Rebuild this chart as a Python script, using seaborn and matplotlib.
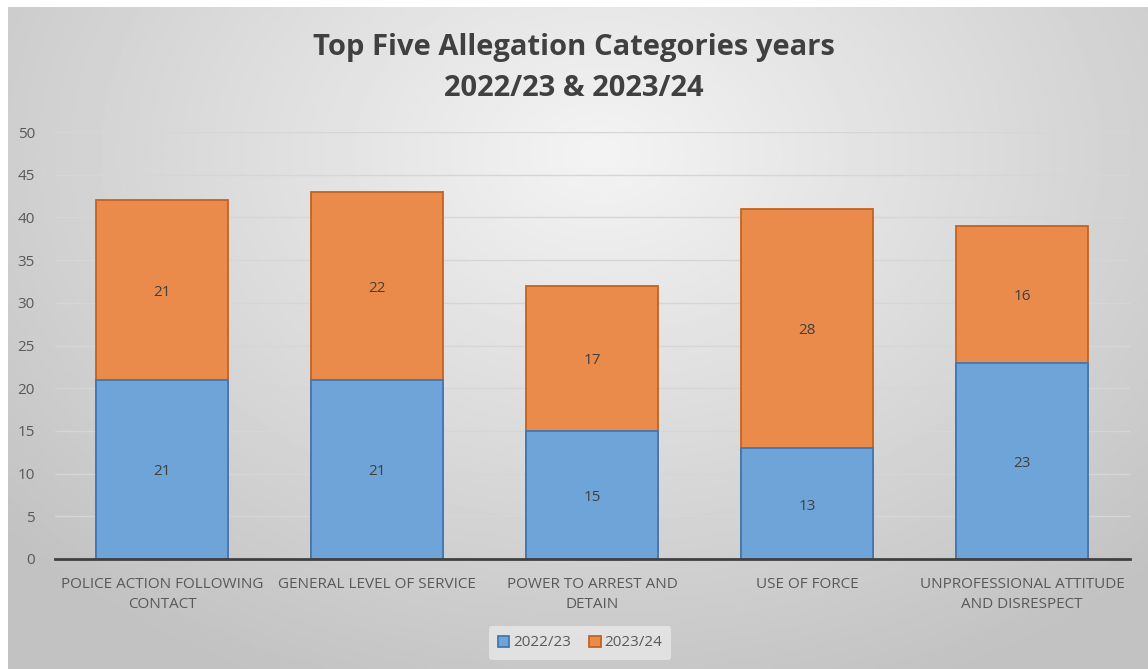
import numpy as np
import matplotlib
matplotlib.use("Agg")
import matplotlib.pyplot as plt
import seaborn as sns
import pandas as pd
from matplotlib.patches import Patch

categories = ["POLICE ACTION FOLLOWING\nCONTACT", "GENERAL LEVEL OF SERVICE",
              "POWER TO ARREST AND\nDETAIN", "USE OF FORCE",
              "UNPROFESSIONAL ATTITUDE\nAND DISRESPECT"]
y2022 = [21, 21, 15, 13, 23]
y2023 = [21, 22, 17, 28, 16]
series_names = ["2022/23", "2023/24"]
yticks = [0, 5, 10, 15, 20, 25, 30, 35, 40, 45, 50]

sns.set_theme(style="white")
plt.rcParams['font.family'] = ['Open Sans', 'DejaVu Sans']

W, H = 1148, 669
fig = plt.figure(figsize=(W / 100, H / 100), dpi=100)
fig.patch.set_facecolor("white")

# background radial gradient
bg = fig.add_axes([8 / W, 0, 1 - 8 / W, 1 - 7 / H], zorder=-10)
gx = np.linspace(0, 1, 400)
gy = np.linspace(0, 1, 300)
X, Y = np.meshgrid(gx, gy)
r = np.sqrt(((X - 0.52) / 0.75) ** 2 + ((Y - 0.22) / 0.95) ** 2)
val = np.clip(0.955 - 0.21 * r, 0.76, 1)
bg.imshow(val, cmap="gray", vmin=0, vmax=1, aspect="auto", extent=[0, 1, 1, 0])
bg.set_axis_off()

df = pd.DataFrame({"cat": categories, "a": y2022, "b": y2023})
df["total"] = df["a"] + df["b"]

ax = fig.add_axes([54.5 / W, 1 - 559 / H, 1075 / W, (559 - 132) / H])
ax.set_facecolor("none")

blue_face = "#6fa4d8"
blue_edge = "#3f78b4"
orange_face = "#eb8b4b"
orange_edge = "#c5621f"

sns.barplot(data=df, x="cat", y="total", color=orange_face, saturation=1,
            edgecolor=orange_edge, linewidth=1.3, width=0.61, ax=ax, zorder=3)
sns.barplot(data=df, x="cat", y="a", color=blue_face, saturation=1,
            edgecolor=blue_edge, linewidth=1.3, width=0.61, ax=ax, zorder=4)

for i, (a, b) in enumerate(zip(y2022, y2023)):
    ax.text(i, a / 2 - 0.3, str(a), ha="center", va="center", fontsize=11,
            color="#404040", zorder=6)
    ax.text(i, a + b / 2 - 0.3, str(b), ha="center", va="center", fontsize=11,
            color="#404040", zorder=6)

ax.set_ylim(0, 50)
ax.set_xlim(-0.5, 4.5)
ax.set_yticks(yticks)
ax.set_yticklabels([str(t) for t in yticks])
ax.yaxis.grid(True, color="#d6d6d6", linewidth=1.0, zorder=0)
ax.set_axisbelow(True)
for s in ["top", "right", "left"]:
    ax.spines[s].set_visible(False)
ax.spines["bottom"].set_color("#404040")
ax.spines["bottom"].set_linewidth(2)
ax.spines["bottom"].set_zorder(7)
ax.tick_params(axis="y", length=0, pad=14, labelsize=11, labelcolor="#595959")
ax.tick_params(axis="x", length=0, pad=13, labelsize=11, labelcolor="#595959")
for lab in ax.get_xticklabels():
    lab.set_linespacing(1.45)
ax.set_xlabel("")
ax.set_ylabel("")

fig.text(0.5, 1 - 47 / H, "Top Five Allegation Categories years", ha="center", va="center",
         fontsize=21, fontweight="bold", color="#404040")
fig.text(0.5, 1 - 89 / H, "2022/23 & 2023/24", ha="center", va="center",
         fontsize=21, fontweight="bold", color="#404040")

handles = [Patch(facecolor=blue_face, edgecolor=blue_edge, linewidth=1.3, label=series_names[0]),
           Patch(facecolor=orange_face, edgecolor=orange_edge, linewidth=1.3, label=series_names[1])]
leg = fig.legend(handles=handles, loc="center", bbox_to_anchor=(580 / W, 1 - 643 / H), ncol=2,
                 frameon=True, fontsize=11, handlelength=0.75, handleheight=0.75,
                 handletextpad=0.25, columnspacing=1.2, borderpad=0.6)
leg.get_frame().set_facecolor("#e8e8e8")
leg.get_frame().set_edgecolor("none")
leg.get_frame().set_alpha(0.8)
for t in leg.get_texts():
    t.set_color("#595959")

fig.savefig("out.png", dpi=100)
